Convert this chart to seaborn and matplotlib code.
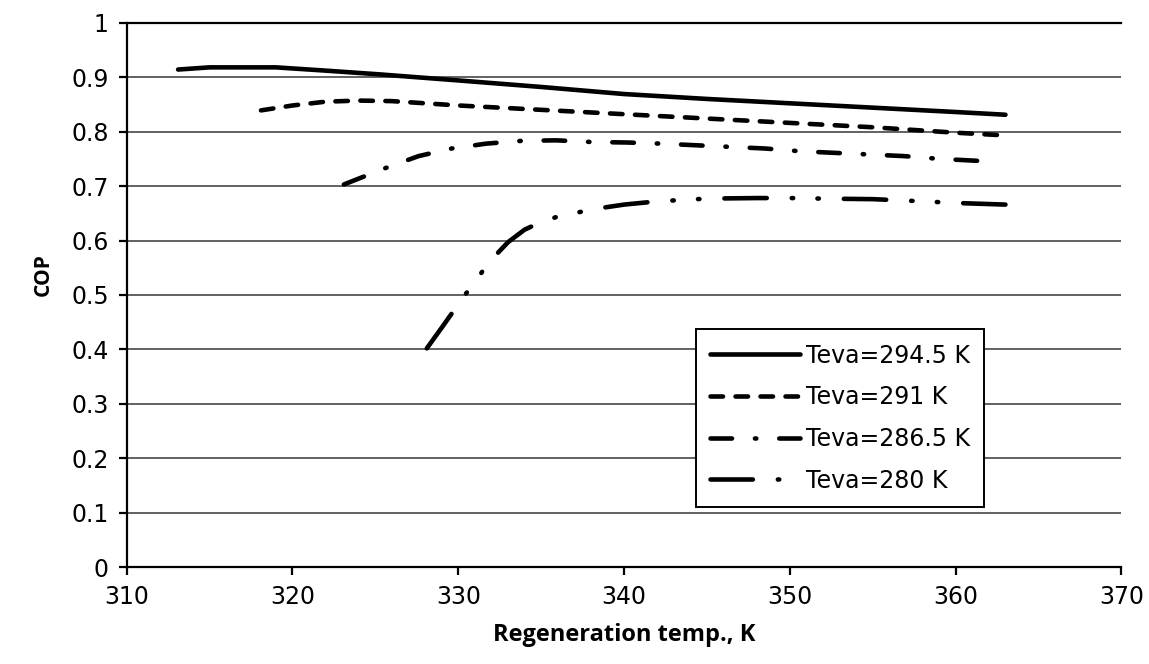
import numpy as np
import pandas as pd
import matplotlib
matplotlib.use("Agg")
import matplotlib.pyplot as plt
from matplotlib import font_manager
import seaborn as sns

# ---- data ----
x_2945 = [313.1, 315, 317, 319, 322, 325.3, 330, 335, 340, 345, 350, 355, 360, 363]
y_2945 = [0.914, 0.918, 0.918, 0.918, 0.912, 0.905, 0.894, 0.882, 0.869, 0.860, 0.852, 0.844, 0.836, 0.831]

x_291 = [318.1, 320, 322, 324, 326, 330, 335, 340, 345, 350, 355, 360, 363]
y_291 = [0.839, 0.848, 0.855, 0.857, 0.856, 0.848, 0.840, 0.832, 0.824, 0.816, 0.808, 0.798, 0.793]

x_2865 = [323.1, 325.6, 327.6, 329.6, 331.7, 333.8, 335.9, 338, 340.2, 342.2, 344.3, 346.4, 348.5,
          350.6, 352.7, 354.8, 356.9, 359, 362.2]
y_2865 = [0.703, 0.733, 0.755, 0.769, 0.778, 0.783, 0.784, 0.781, 0.780, 0.778, 0.775, 0.772, 0.769,
          0.764, 0.761, 0.758, 0.755, 0.750, 0.745]

x_280 = [328.1, 329, 330, 331, 332, 333, 334, 335, 336, 337, 338, 340, 342, 345, 348, 350, 352, 355, 358, 360, 363]
y_280 = [0.402, 0.440, 0.483, 0.525, 0.565, 0.597, 0.620, 0.634, 0.644, 0.650, 0.657, 0.666, 0.672, 0.677,
         0.678, 0.678, 0.677, 0.676, 0.672, 0.669, 0.666]

labels = ["Teva=294.5 K", "Teva=291 K", "Teva=286.5 K", "Teva=280 K"]
x_ticks = [310, 320, 330, 340, 350, 360, 370]
y_ticks = [0, 0.1, 0.2, 0.3, 0.4, 0.5, 0.6, 0.7, 0.8, 0.9, 1]
y_ticklabels = ["0", "0.1", "0.2", "0.3", "0.4", "0.5", "0.6", "0.7", "0.8", "0.9", "1"]
x_label = "Regeneration temp., K"
y_label = "COP"

# ---- style ----
sns.set_style("ticks")
plt.rcParams["font.family"] = ["DejaVu Sans"]
plt.rcParams["lines.scale_dashes"] = False
plt.rcParams["text.color"] = "black"
plt.rcParams["axes.labelcolor"] = "black"
plt.rcParams["xtick.color"] = "black"
plt.rcParams["ytick.color"] = "black"

available = {f.name for f in font_manager.fontManager.ttflist}
label_font = "DejaVu Sans"
for cand in ["Liberation Sans Narrow", "Open Sans", "Lato", "Roboto"]:
    if cand in available:
        label_font = cand
        break

W, H, DPI = 1149, 664, 100
fig = plt.figure(figsize=(W / DPI, H / DPI), dpi=DPI)
ax = fig.add_axes([126.7 / W, 1 - 567.3 / H, (1121.5 - 126.7) / W, (567.3 - 22.7) / H])

series = [(x_2945, y_2945), (x_291, y_291), (x_2865, y_2865), (x_280, y_280)]
styles = [
    "-",
    (0, (9.0, 9.0)),
    (0, (15.5, 16.5, 1.0, 16.5)),
    (0, (30.5, 18.0, 1.0, 17.5, 1.0, 18.0)),
]
lw = 3.3
for (xs, ys), lab, ls in zip(series, labels, styles):
    df = pd.DataFrame({"x": xs, "y": ys})
    sns.lineplot(data=df, x="x", y="y", ax=ax, color="black", linewidth=lw,
                 linestyle=ls, label=lab, sort=False, estimator=None,
                 dash_capstyle="round", solid_capstyle="round")

ax.set_xlim(310, 370)
ax.set_ylim(0, 1)
ax.set_xticks(x_ticks)
ax.set_xticklabels([str(t) for t in x_ticks])
ax.set_yticks(y_ticks)
ax.set_yticklabels(y_ticklabels)
ax.yaxis.grid(True, color="#555555", linewidth=1.3)
ax.xaxis.grid(False)
ax.set_axisbelow(True)

for s in ["left", "bottom"]:
    ax.spines[s].set_linewidth(1.6)
    ax.spines[s].set_color("black")
ax.spines["top"].set_visible(True)
ax.spines["top"].set_linewidth(1.6)
ax.spines["top"].set_color("black")
ax.spines["right"].set_visible(False)

ax.tick_params(axis="both", direction="out", length=6, width=1.6, colors="black",
               labelcolor="black", labelsize=17, pad=7)

ax.set_xlabel(x_label, fontsize=17, fontweight="bold", family=label_font, labelpad=10, color="black")
ax.set_ylabel(y_label, fontsize=15, fontweight="bold", family=label_font, color="black")
ax.yaxis.set_label_coords(-0.073, 0.537)

leg = ax.legend(loc="lower left", bbox_to_anchor=(0.572, 0.111), borderaxespad=0,
                fontsize=17, handlelength=3.8, handletextpad=0.27, borderpad=0.6,
                labelspacing=0.75, frameon=True, fancybox=False, framealpha=1,
                labelcolor="black")
leg.get_frame().set_edgecolor("black")
leg.get_frame().set_linewidth(1.4)

fig.savefig("out.png", dpi=DPI)
